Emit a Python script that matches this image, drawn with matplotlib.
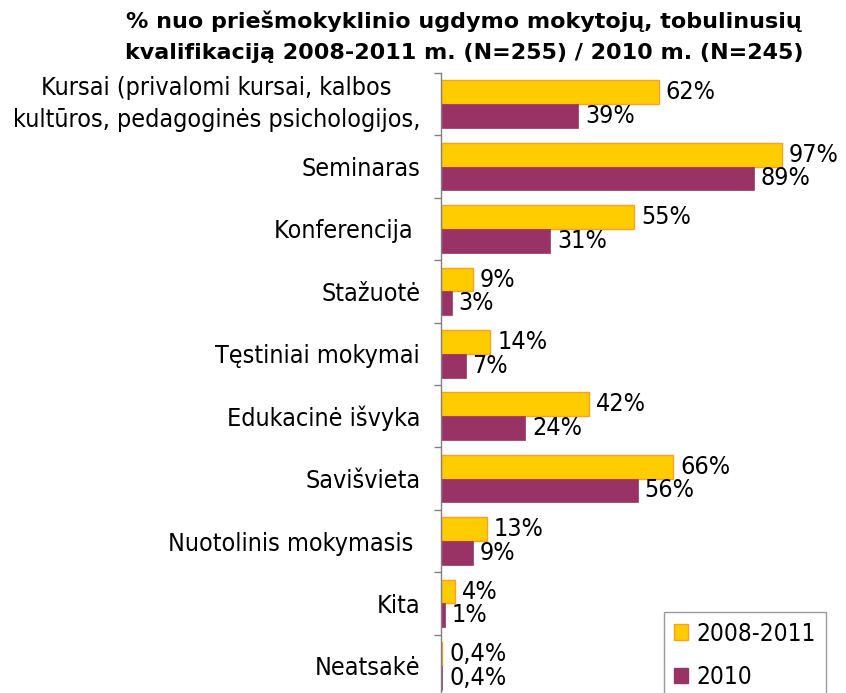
import matplotlib
matplotlib.use("Agg")
import matplotlib.pyplot as plt
import numpy as np
from matplotlib.patches import Patch

categories = [
    "Kursai (privalomi kursai, kalbos\nkultūros, pedagoginės psichologijos,",
    "Seminaras",
    "Konferencija ",
    "Stažuotė",
    "Tęstiniai mokymai",
    "Edukacinė išvyka",
    "Savišvieta",
    "Nuotolinis mokymasis ",
    "Kita",
    "Neatsakė",
]
series_names = ["2008-2011", "2010"]
values_2008_2011 = [62, 97, 55, 9, 14, 42, 66, 13, 4, 0.4]
values_2010 = [39, 89, 31, 3, 7, 24, 56, 9, 1, 0.4]
labels_2008_2011 = ["62%", "97%", "55%", "9%", "14%", "42%", "66%", "13%", "4%", "0,4%"]
labels_2010 = ["39%", "89%", "31%", "3%", "7%", "24%", "56%", "9%", "1%", "0,4%"]
title = "% nuo priešmokyklinio ugdymo mokytojų, tobulinusių\nkvalifikaciją 2008-2011 m. (N=255) / 2010 m. (N=245)"

plt.rcParams['font.family'] = ['DejaVu Sans']
plt.rcParams['font.stretch'] = 'condensed'
W, H = 846, 693
fig = plt.figure(figsize=(W/100, H/100), dpi=100)
left = 441 / W
top = 1 - 73 / H
bottom = 1 - 697 / H
right = 825 / W
ax = fig.add_axes([left, bottom, right - left, top - bottom])

y = np.arange(len(categories))
h = 0.38
yellow = "#FFCC00"
yellow_edge = "#FFA020"
maroon = "#993366"
ax.barh(y - h/2, values_2008_2011, height=h, color=yellow, edgecolor=yellow_edge, linewidth=1)
ax.barh(y + h/2, values_2010, height=h, color=maroon, edgecolor=maroon, linewidth=0.5)

fs = 18
for i in range(len(categories)):
    ax.annotate(labels_2008_2011[i], (values_2008_2011[i], y[i] - h/2), xytext=(5, 0),
                textcoords="offset points", va="center", ha="left", fontsize=fs)
    ax.annotate(labels_2010[i], (values_2010[i], y[i] + h/2), xytext=(5, 0),
                textcoords="offset points", va="center", ha="left", fontsize=fs)

ax.set_xlim(0, (825 - 441) / 3.515)
ax.set_ylim(len(categories) - 0.5, -0.5)
ax.set_yticks(np.arange(len(categories) + 1) - 0.5, minor=False)
ax.set_yticklabels([])
ax.set_yticks(y, minor=True)
ticklabels = ax.set_yticklabels(categories, minor=True, fontsize=fs, multialignment="center",
                                linespacing=1.4)
ticklabels[0].set_va("center")
ax.tick_params(axis="y", which="major", length=5, color="#808080", width=1)
ax.tick_params(axis="y", which="minor", length=0, pad=15)
ax.set_xticks([])
for s in ["top", "right", "bottom"]:
    ax.spines[s].set_visible(False)
ax.spines["left"].set_color("#808080")
ax.spines["left"].set_linewidth(1)
ax.patch.set_visible(False)

fig.text(464 / W, 1 - 11 / H, title, ha="center", va="top", fontsize=16, fontweight="bold",
         fontstretch="normal", linespacing=1.65)

handles = [Patch(facecolor=yellow, edgecolor=yellow_edge), Patch(facecolor=maroon, edgecolor=maroon)]
leg = fig.legend(handles, series_names, loc="upper left", bbox_to_anchor=(664 / W, 1 - 612 / H),
                 borderaxespad=0, fontsize=17.5, frameon=True, fancybox=False, handlelength=0.6,
                 handleheight=0.6, handletextpad=0.35, labelspacing=0.8, borderpad=0.4)
leg.get_frame().set_edgecolor("#808080")
leg.get_frame().set_linewidth(1)

fig.savefig("out.png", dpi=100)
